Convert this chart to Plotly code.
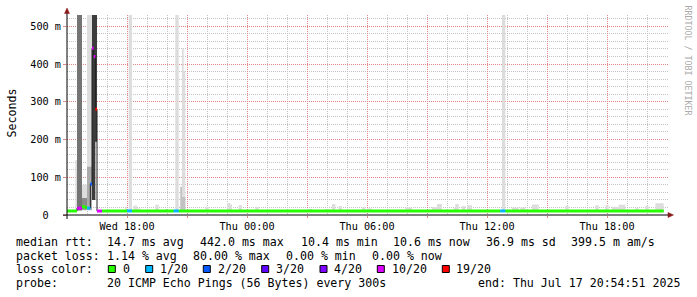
import pandas as pd
import plotly.graph_objects as go

# ---------------- data (5-minute steps from Wed 2025-07-16 15:00) ----------------
median_ms = [
    10.6,10.6,10.6,10.6,10.6,10.6,18,18,18,22,22,20,18,18,82,442,420,280,10.5,10.5,
    10.5,10.6,10.6,10.6,10.6,10.6,10.6,10.6,10.6,10.6,10.6,10.6,10.6,10.6,10.6,10.6,10.8,10.8,10.8,10.6,
    10.6,10.6,10.6,10.6,10.6,10.6,10.6,10.6,10.6,10.6,10.6,10.6,10.6,10.6,10.6,10.6,10.6,10.6,10.6,10.6,
    10.6,10.6,10.6,10.6,10.8,10.8,10.8,10.6,10.6,10.6,10.6,10.6,10.6,10.6,10.6,10.6,10.6,10.6,10.6,10.6,
    10.6,10.6,10.6,10.6,10.6,10.6,10.6,10.6,10.6,10.6,10.6,10.6,10.6,10.6,10.6,10.6,10.6,10.6,10.6,10.6,
    10.6,10.6,10.6,10.6,10.6,10.6,10.6,10.6,10.6,10.6,10.6,10.6,10.6,10.6,10.6,10.6,10.6,10.6,10.6,10.6,
    10.6,10.6,10.6,10.6,10.6,10.6,10.6,10.6,10.6,10.6,10.6,10.6,10.6,10.6,10.6,10.6,10.6,10.6,10.6,10.6,
    10.6,10.6,10.6,10.6,10.6,10.6,10.6,10.6,10.6,10.6,10.6,10.6,10.6,10.6,10.6,10.6,10.6,10.6,10.6,10.6,
    10.6,10.6,10.6,10.6,10.6,10.6,10.6,10.6,10.6,10.6,10.6,10.6,10.6,10.6,10.6,10.6,10.6,10.6,10.6,10.6,
    10.6,10.6,10.6,10.6,10.6,10.6,10.6,10.6,10.6,10.6,10.6,10.6,10.6,10.6,10.6,10.6,10.6,10.6,10.6,10.6,
    10.6,10.6,10.6,10.6,10.6,10.6,10.6,10.6,10.6,10.6,10.6,10.6,10.6,10.6,10.6,10.6,10.6,10.6,10.6,10.6,
    10.6,10.6,10.6,10.6,10.6,10.6,10.6,10.6,10.6,10.6,10.6,10.6,10.6,10.6,10.6,10.6,10.6,10.6,10.6,10.6,
    10.6,10.6,10.6,10.6,10.6,10.6,10.6,10.6,10.6,10.6,10.6,10.6,10.6,10.6,10.6,10.6,10.6,10.6,10.6,10.6,
    10.8,10.8,10.8,10.6,10.6,10.6,10.6,10.6,10.6,10.6,10.6,10.6,10.6,10.6,10.6,10.6,10.6,10.6,10.6,10.6,
    10.6,10.6,10.6,10.6,10.6,10.6,10.6,10.6,10.6,10.6,10.6,10.6,10.6,10.6,10.6,10.6,10.6,10.6,10.6,10.6,
    10.6,10.6,10.6,10.6,10.6,10.6,10.6,10.6,10.6,10.6,10.6,10.6,10.6,10.6,10.6,10.6,10.6,10.6,10.6,10.6,
    10.6,10.6,10.6,10.6,10.6,10.6,10.6,10.6,10.6,10.6,10.6,10.6,10.6,10.6,10.6,10.6,10.6,10.6,10.6,10.6,
    10.6,10.6,10.6,10.6,10.6,10.6,10.6,10.6,10.6,10.6,10.6,10.6,10.6,10.6,10.6,10.6,10.6,10.6,
]

loss_of_20 = [
    0,0,0,0,0,0,8,8,8,0,0,0,1,1,2,9,10,16,7,7,
    7,0,0,0,0,0,0,0,0,0,0,0,0,0,0,0,1,1,1,0,
    0,0,0,0,0,0,0,0,0,0,0,0,0,0,0,0,0,0,0,0,
    0,0,0,0,1,1,1,0,0,0,0,0,0,0,0,0,0,0,0,0,
    0,0,0,0,0,0,0,0,0,0,0,0,0,0,0,0,0,0,0,0,
    0,0,0,0,0,0,0,0,0,0,0,0,0,0,0,0,0,0,0,0,
    0,0,0,0,0,0,0,0,0,0,0,0,0,0,0,0,0,0,0,0,
    0,0,0,0,0,0,0,0,0,0,0,0,0,0,0,0,0,0,0,0,
    0,0,0,0,0,0,0,0,0,0,0,0,0,0,0,0,0,0,0,0,
    0,0,0,0,0,0,0,0,0,0,0,0,0,0,0,0,0,0,0,0,
    0,0,0,0,0,0,0,0,0,0,0,0,0,0,0,0,0,0,0,0,
    0,0,0,0,0,0,0,0,0,0,0,0,0,0,0,0,0,0,0,0,
    0,0,0,0,0,0,0,0,0,0,0,0,0,0,0,0,0,0,0,0,
    1,1,1,0,0,0,0,0,0,0,0,0,0,0,0,0,0,0,0,0,
    0,0,0,0,0,0,0,0,0,0,0,0,0,0,0,0,0,0,0,0,
    0,0,0,0,0,0,0,0,0,0,0,0,0,0,0,0,0,0,0,0,
    0,0,0,0,0,0,0,0,0,0,0,0,0,0,0,0,0,0,0,0,
    0,0,0,0,0,0,0,0,0,0,0,0,0,0,0,0,0,0,
]

rtt_min_ms = [
    9.8,9.8,9.8,9.8,9.8,12,12,12,12,12,12,12,12,12,12,40,40,194,9.8,9.8,
    9.8,9.8,9.8,9.8,9.8,9.8,9.8,9.8,9.8,9.8,9.8,9.8,9.8,9.8,9.8,9.8,9.8,9.8,9.8,9.8,
    9.8,9.8,9.8,9.8,9.8,9.8,9.8,9.8,9.8,9.8,9.8,9.8,9.8,9.8,9.8,9.8,9.8,9.8,9.8,9.8,
    9.8,9.8,9.8,9.8,9.8,9.8,9.8,9.8,9.8,9.8,9.8,9.8,9.8,9.8,9.8,9.8,9.8,9.8,9.8,9.8,
    9.8,9.8,9.8,9.8,9.8,9.8,9.8,9.8,9.8,9.8,9.8,9.8,9.8,9.8,9.8,9.8,9.8,9.8,9.8,9.8,
    9.8,9.8,9.8,9.8,9.8,9.8,9.8,9.8,9.8,9.8,9.8,9.8,9.8,9.8,9.8,9.8,9.8,9.8,9.8,9.8,
    9.8,9.8,9.8,9.8,9.8,9.8,9.8,9.8,9.8,9.8,9.8,9.8,9.8,9.8,9.8,9.8,9.8,9.8,9.8,9.8,
    9.8,9.8,9.8,9.8,9.8,9.8,9.8,9.8,9.8,9.8,9.8,9.8,9.8,9.8,9.8,9.8,9.8,9.8,9.8,9.8,
    9.8,9.8,9.8,9.8,9.8,9.8,9.8,9.8,9.8,9.8,9.8,9.8,9.8,9.8,9.8,9.8,9.8,9.8,9.8,9.8,
    9.8,9.8,9.8,9.8,9.8,9.8,9.8,9.8,9.8,9.8,9.8,9.8,9.8,9.8,9.8,9.8,9.8,9.8,9.8,9.8,
    9.8,9.8,9.8,9.8,9.8,9.8,9.8,9.8,9.8,9.8,9.8,9.8,9.8,9.8,9.8,9.8,9.8,9.8,9.8,9.8,
    9.8,9.8,9.8,9.8,9.8,9.8,9.8,9.8,9.8,9.8,9.8,9.8,9.8,9.8,9.8,9.8,9.8,9.8,9.8,9.8,
    9.8,9.8,9.8,9.8,9.8,9.8,9.8,9.8,9.8,9.8,9.8,9.8,9.8,9.8,9.8,9.8,9.8,9.8,9.8,9.8,
    9.8,9.8,9.8,9.8,9.8,9.8,9.8,9.8,9.8,9.8,9.8,9.8,9.8,9.8,9.8,9.8,9.8,9.8,9.8,9.8,
    9.8,9.8,9.8,9.8,9.8,9.8,9.8,9.8,9.8,9.8,9.8,9.8,9.8,9.8,9.8,9.8,9.8,9.8,9.8,9.8,
    9.8,9.8,9.8,9.8,9.8,9.8,9.8,9.8,9.8,9.8,9.8,9.8,9.8,9.8,9.8,9.8,9.8,9.8,9.8,9.8,
    9.8,9.8,9.8,9.8,9.8,9.8,9.8,9.8,9.8,9.8,9.8,9.8,9.8,9.8,9.8,9.8,9.8,9.8,9.8,9.8,
    9.8,9.8,9.8,9.8,9.8,9.8,9.8,9.8,9.8,9.8,9.8,9.8,9.8,9.8,9.8,9.8,9.8,9.8,
]

rtt_max_ms = [
    13,13,13,13,13,146,600,600,600,80,80,80,600,600,600,600,600,600,13,13,
    13,13,13,13,13,13,13,13,13,13,13,13,13,13,13,22,13,600,600,13,
    25,25,17,17,13,13,13,13,13,13,13,13,13,27,27,13,13,13,13,16,
    13,13,13,13,13,600,600,13,75,441,382,13,13,13,13,13,13,13,13,13,
    13,13,13,22,22,13,13,13,13,13,13,13,13,13,13,13,32,32,28,13,
    13,13,13,26,26,13,13,13,13,13,13,13,13,21,21,13,13,13,13,13,
    13,13,13,13,13,13,13,13,13,13,13,13,13,13,13,13,13,13,13,13,
    13,13,13,13,16,16,16,13,13,13,13,13,13,13,13,16,16,16,13,29,
    29,13,13,24,24,13,13,13,13,13,13,13,13,13,13,13,13,20,20,13,
    17,17,17,13,13,13,13,13,13,13,13,13,13,13,13,13,13,13,13,13,
    13,13,13,20,20,20,20,13,13,13,13,13,13,13,13,13,13,13,13,21,
    21,21,29,29,29,13,13,13,13,13,13,13,20,29,29,13,13,24,24,13,
    26,26,26,13,13,13,13,13,13,13,13,13,13,13,13,13,13,13,13,13,
    13,600,600,13,13,13,13,20,20,20,20,13,20,20,20,13,13,13,13,28,
    28,28,28,13,13,13,13,13,13,13,13,13,13,13,13,13,13,13,13,24,
    24,13,13,13,13,13,13,13,13,13,13,13,13,13,13,13,13,26,26,13,
    13,13,13,26,26,13,13,22,22,22,22,27,27,27,27,13,13,13,13,13,
    13,18,18,13,13,13,13,24,24,13,13,13,13,31,31,31,31,31,
]

# darker inner smoke bands (sparse)
band_step = [6, 7, 8, 9, 10, 11, 12, 13, 14, 15, 16, 17, 68, 69, 70]
band_lo_ms = [12, 12, 12, 14, 14, 14, 14, 14, 14, 40, 40, 194, 12, 12, 12]
band_hi_ms = [600, 600, 600, 45, 45, 45, 128, 128, 128, 600, 600, 600, 75, 48, 48]
band_gray = ["#747474", "#747474", "#747474", "#8a8a8a", "#8a8a8a", "#8a8a8a",
             "#ababab", "#ababab", "#ababab", "#3c3c3c", "#3c3c3c", "#3c3c3c",
             "#c2c2c2", "#c2c2c2", "#c2c2c2"]

loss_levels = [0, 1, 2, 3, 4, 10, 19]
loss_labels = ["0", "1/20", "2/20", "3/20", "4/20", "10/20", "19/20"]
loss_colors = ["#26ff00", "#00b8ff", "#0059ff", "#5e00ff", "#7e00ff", "#dd00ff", "#ff0000"]

x_tick_times = ["2025-07-16 18:00", "2025-07-16 21:00", "2025-07-17 00:00", "2025-07-17 03:00",
                "2025-07-17 06:00", "2025-07-17 09:00", "2025-07-17 12:00", "2025-07-17 15:00",
                "2025-07-17 18:00"]
x_tick_text = ["Wed 18:00", "", "Thu 00:00", "", "Thu 06:00", "", "Thu 12:00", "", "Thu 18:00"]
y_tick_vals = [0, 100, 200, 300, 400, 500]
y_tick_text = ["0\u00a0\u00a0", "100 m", "200 m", "300 m", "400 m", "500 m"]

rtt_stats = ["14.7 ms avg", "442.0 ms max", "10.4 ms min", "10.6 ms now", "36.9 ms sd", "399.5 m am/s"]
loss_stats = ["1.14 % avg", "80.00 % max", "0.00 % min", "0.00 % now"]
probe_text = "20 ICMP Echo Pings (56 Bytes) every 300s"
end_text = "end: Thu Jul 17 20:54:51 2025"

# ---------------- build ----------------
start = pd.Timestamp("2025-07-16 15:00")
step = pd.Timedelta(minutes=5)
n = len(median_ms)
edges = [start + k * step for k in range(n + 1)]

def step_xy(vals):
    xs, ys = [], []
    for i, v in enumerate(vals):
        xs += [edges[i], edges[i + 1]]
        ys += [v, v]
    return xs, ys

fig = go.Figure()

# light outer smoke
xl, yl = step_xy(rtt_min_ms)
xh, yh = step_xy(rtt_max_ms)
fig.add_trace(go.Scatter(x=xl, y=yl, mode="lines", line=dict(width=0), hoverinfo="skip", showlegend=False))
fig.add_trace(go.Scatter(x=xh, y=yh, mode="lines", line=dict(width=0), fill="tonexty",
                         fillcolor="#dddddd", hoverinfo="skip", showlegend=False))

# inner darker smoke bands
for g in dict.fromkeys(band_gray):
    bx, by = [], []
    for s, lo, hi, c in zip(band_step, band_lo_ms, band_hi_ms, band_gray):
        if c != g:
            continue
        t0, t1 = edges[s], edges[s + 1]
        bx += [t0, t1, t1, t0, t0, None]
        by += [lo, lo, hi, hi, lo, None]
    fig.add_trace(go.Scatter(x=bx, y=by, mode="lines", line=dict(width=0), fill="toself",
                             fillcolor=g, hoverinfo="skip", showlegend=False))

# black median connector line
mx, my = step_xy(median_ms)
fig.add_trace(go.Scatter(x=mx, y=my, mode="lines", line=dict(width=1, color="#202020"),
                         hoverinfo="skip", showlegend=False))

def loss_class(l):
    for k, t in enumerate(loss_levels):
        if l <= t:
            return k
    return len(loss_levels) - 1

classes = [loss_class(l) for l in loss_of_20]
for c, col in enumerate(loss_colors):
    cx, cy = [], []
    for i in range(n):
        if classes[i] != c:
            continue
        # extend runs of identical values, break otherwise (no vertical joins)
        if cx and cx[-1] == edges[i] and cy[-1] == median_ms[i]:
            cx[-1] = edges[i + 1]
        else:
            if cx:
                cx.append(None)
                cy.append(None)
            cx += [edges[i], edges[i + 1]]
            cy += [median_ms[i], median_ms[i]]
    if cx:
        fig.add_trace(go.Scatter(x=cx, y=cy, mode="lines", line=dict(width=3, color=col),
                                 hoverinfo="skip", showlegend=False))

# ---------------- layout ----------------
W, H = 697, 297
L, R, T, B = 67, 29, 15, 82
PW, PH = W - L - R, H - T - B

def px(x):
    return (x - L) / PW

def py(y):
    return (T + PH - y) / PH

x_end = start + pd.Timedelta(minutes=3 * PW)
minor_x = [start + pd.Timedelta(hours=h) for h in range(1, 31)]

MONO = "DejaVu Sans Mono"
major_col = "rgb(228,135,135)"
minor_col = "rgb(196,196,196)"

fig.update_layout(
    width=W, height=H,
    margin=dict(l=L, r=R, t=T, b=B, pad=0),
    paper_bgcolor="white", plot_bgcolor="white",
    showlegend=False,
    font=dict(family=MONO, size=10.2, color="black"),
    xaxis=dict(
        type="date", range=[start, x_end],
        tickmode="array", tickvals=x_tick_times, ticktext=x_tick_text,
        showgrid=True, gridcolor=major_col, griddash="1px,1px", gridwidth=1,
        ticks="outside", ticklen=2, tickcolor=major_col,
        minor=dict(tickmode="array", tickvals=minor_x, showgrid=True,
                   gridcolor=minor_col, griddash="1px,1px", gridwidth=1, ticks=""),
        zeroline=False, showline=False,
        tickfont=dict(family=MONO, size=10.2, color="black"),
    ),
    yaxis=dict(
        range=[0, 530], tickmode="array", tickvals=y_tick_vals, ticktext=y_tick_text,
        showgrid=True, gridcolor=major_col, griddash="1px,1px", gridwidth=1,
        ticks="outside", ticklen=3, tickcolor=major_col,
        minor=dict(tickmode="array", tickvals=list(range(20, 540, 20)), showgrid=True,
                   gridcolor=minor_col, griddash="1px,1px", gridwidth=1, ticks=""),
        zeroline=False, showline=False,
        tickfont=dict(family=MONO, size=10.2, color="black"),
    ),
)

shapes = []
# axes lines
shapes.append(dict(type="line", xref="paper", yref="paper", x0=px(63), x1=px(669), y0=py(215), y1=py(215),
                   line=dict(color="black", width=1)))
shapes.append(dict(type="line", xref="paper", yref="paper", x0=px(67), x1=px(67), y0=py(219), y1=py(12),
                   line=dict(color="black", width=1)))
# arrows
ar = "#8b1a1a"
shapes.append(dict(type="path", xref="paper", yref="paper",
                   path=f"M {px(668)} {py(212.5)} L {px(673.5)} {py(215)} L {px(668)} {py(217.5)} Z",
                   fillcolor=ar, line=dict(color=ar, width=0.5)))
shapes.append(dict(type="path", xref="paper", yref="paper",
                   path=f"M {px(64.5)} {py(13.5)} L {px(67)} {py(8)} L {px(69.5)} {py(13.5)} Z",
                   fillcolor=ar, line=dict(color=ar, width=0.5)))

ann = []
def text(x, y, s, size=11.6, color="black", angle=0, xanchor="left"):
    ann.append(dict(x=px(x), y=py(y), xref="paper", yref="paper", text=s.replace(" ", "\u00a0"),
                    showarrow=False, xanchor=xanchor, yanchor="middle", textangle=angle,
                    font=dict(family=MONO, size=size, color=color), borderpad=0, borderwidth=0))

# legend lines
line_y = [241.5, 255.5, 269, 283]
text(15.5, line_y[0], "median rtt:")
for xp, s in zip([107.2, 199.5, 300.5, 392.8, 485.5, 571.2], rtt_stats):
    text(xp, line_y[0], s)
text(15.5, line_y[1], "packet loss:")
for xp, s in zip([107.2, 192.8, 286.2, 371.8], loss_stats):
    text(xp, line_y[1], s)
text(15.5, line_y[2], "loss color:")
box_x = [108.3, 145.7, 203.3, 261.7, 320, 377.3, 442.3]
lab_x = [122.8, 159.5, 217.8, 275.5, 334.2, 391.8, 456.2]
for bx, lx, lab, col in zip(box_x, lab_x, loss_labels, loss_colors):
    shapes.append(dict(type="rect", xref="paper", yref="paper", x0=px(bx), x1=px(bx + 7),
                       y0=py(272.5), y1=py(265.5), fillcolor=col, line=dict(color="black", width=1)))
    text(lx, line_y[2], lab)
text(15.5, line_y[3], "probe:")
text(107.2, line_y[3], probe_text)
text(477.5, line_y[3], end_text)

# y-axis unit label and watermark
text(11, 113.5, "Seconds", size=11.6, angle=-90, xanchor="center")
text(687.5, 60, "RRDTOOL / TOBI OETIKER", size=8.3, color="#ababab", angle=90, xanchor="center")

fig.update_layout(shapes=shapes, annotations=ann)
fig.write_html("out.html")
